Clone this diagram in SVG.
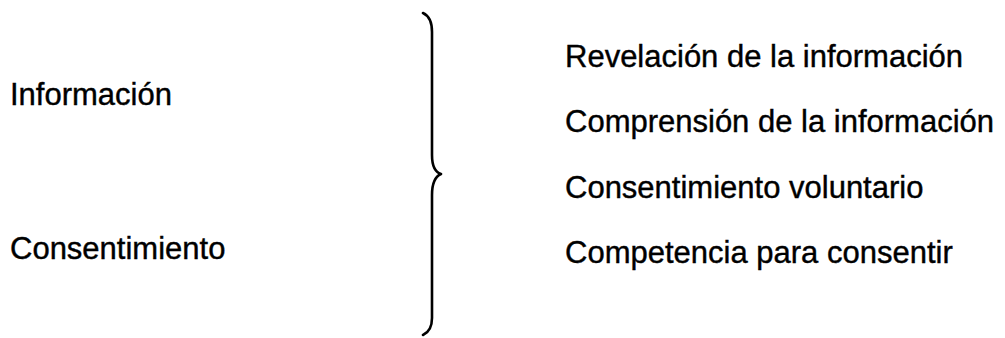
<svg xmlns="http://www.w3.org/2000/svg" width="1005" height="338" viewBox="0 0 1005 338">
<style>
text{font-family:"Liberation Sans",Arial,sans-serif;font-size:31px;fill:#000;stroke:#000;stroke-width:0.4}
.brace{fill:none;stroke:#000;stroke-width:2.6;stroke-linecap:round;stroke-linejoin:round}
</style>
<rect width="1005" height="338" fill="#fff"/>
<g id="left">
<text x="10" y="105">Información</text>
<text x="10" y="259">Consentimiento</text>
</g>
<g id="connectors">
<path class="brace" d="M423,13 Q432,17 432,32 L432,155 Q432,171 441,174 Q432,178 432,195 L432,318 Q432,331 423,335"/>
</g>
<g id="right">
<text x="565" y="67">Revelación de la información</text>
<text x="565" y="132">Comprensión de la información</text>
<text x="565" y="198">Consentimiento voluntario</text>
<text x="565" y="263">Competencia para consentir</text>
</g>
</svg>
